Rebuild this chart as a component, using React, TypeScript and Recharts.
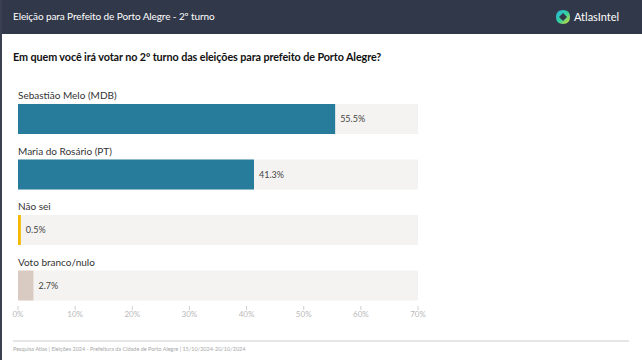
import { BarChart, Bar, XAxis, YAxis, Cell, LabelList } from 'recharts';

const candidates = ['Sebastião Melo (MDB)', 'Maria do Rosário (PT)', 'Não sei', 'Voto branco/nulo'];
const shares = [55.5, 41.3, 0.5, 2.7];
const barColors = ['#277c9b', '#277c9b', '#f5b800', '#d9cac2'];
const xTicks = [0, 10, 20, 30, 40, 50, 60, 70];

const data = candidates.map((name, i) => ({ name, value: shares[i], color: barColors[i] }));

const FONT = 'Lato, "Open Sans", sans-serif';

function AxisTick(props: any) {
  const { x, y, payload } = props;
  return (
    <g>
      <line x1={x} x2={x} y1={y - 7} y2={y - 3} stroke="#cfcfcf" strokeWidth={1} />
      <text x={x} y={y + 1} dy="0.35em" textAnchor="middle" fontSize={8} fill="#b9b9b9" fontFamily={FONT}>
        {payload.value}%
      </text>
    </g>
  );
}

function NameLabel(props: any) {
  const { x, y, value } = props;
  return (
    <text x={x} y={y - 5} fontSize={10} fill="#333" fontFamily={FONT}>
      {value}
    </text>
  );
}

function ValueLabel(props: any) {
  const { x, y, width, height, value } = props;
  return (
    <text x={x + width + 5} y={y + height / 2} dy="0.35em" fontSize={9} fill="#444" fontFamily={FONT}>
      {value}%
    </text>
  );
}

export default function App() {
  return (
    <div style={{ position: 'fixed', left: 0, top: 0, width: 642, height: 360, background: '#fff', fontFamily: FONT, overflow: 'hidden' }}>
      {/* header */}
      <div style={{ position: 'absolute', left: 0, top: 0, width: 642, height: 34, background: '#313849' }}>
        <div style={{ position: 'absolute', left: 13, top: 10, color: '#fff', fontSize: 10, letterSpacing: -0.1 }}>
          Eleição para Prefeito de Porto Alegre - 2º turno
        </div>
        <svg width={16} height={16} style={{ position: 'absolute', left: 555, top: 9 }}>
          <defs>
            <linearGradient id="lg" x1="0" y1="0" x2="1" y2="1">
              <stop offset="0%" stopColor="#2bb3e6" />
              <stop offset="50%" stopColor="#2fd0a0" />
              <stop offset="100%" stopColor="#e8e02a" />
            </linearGradient>
          </defs>
          <path d="M8 1 Q15 1 15 8 Q15 15 8 15 Q1 15 1 8 Q1 1 8 1 Z M8 4 L12 8 L8 12 L4 8 Z" fill="url(#lg)" fillRule="evenodd" />
        </svg>
        <div style={{ position: 'absolute', left: 574, top: 10, color: '#fff', fontSize: 11 }}>AtlasIntel</div>
      </div>
      <div style={{ position: 'absolute', left: 0, top: 0, width: 2, height: 360, background: '#3b4050' }} />

      {/* question */}
      <div style={{ position: 'absolute', left: 13, top: 50, color: '#111', fontSize: 10.8, fontWeight: 700, letterSpacing: -0.1 }}>
        Em quem você irá votar no 2º turno das eleições para prefeito de Porto Alegre?
      </div>

      <div style={{ position: 'absolute', left: 0, top: 0 }}>
        <BarChart
          width={642}
          height={360}
          data={data}
          layout="vertical"
          margin={{ top: 91, right: 224, bottom: 17, left: 18 }}
        >
          <XAxis
            type="number"
            domain={[0, 70]}
            ticks={xTicks}
            axisLine={false}
            tickLine={false}
            tickSize={0}
            tickMargin={0}
            height={30}
            tick={<AxisTick />}
            interval={0}
          />
          <YAxis type="category" dataKey="name" hide width={0} />
          <Bar dataKey="value" barSize={30} background={{ fill: '#f4f3f1' }} isAnimationActive={false}>
            {data.map((d, i) => (
              <Cell key={i} fill={d.color} />
            ))}
            <LabelList dataKey="name" content={<NameLabel />} />
            <LabelList dataKey="value" content={<ValueLabel />} />
          </Bar>
        </BarChart>
      </div>

      {/* footer */}
      <div style={{ position: 'absolute', left: 13, top: 340, width: 616, height: 2, background: '#e6e6e6' }} />
      <div style={{ position: 'absolute', left: 13, top: 346, fontSize: 5.5, color: '#a8a8a8', whiteSpace: 'nowrap' }}>
        Pesquisa Atlas | Eleições 2024 - Prefeitura da Cidade de Porto Alegre | 15/10/2024-20/10/2024
      </div>
    </div>
  );
}
